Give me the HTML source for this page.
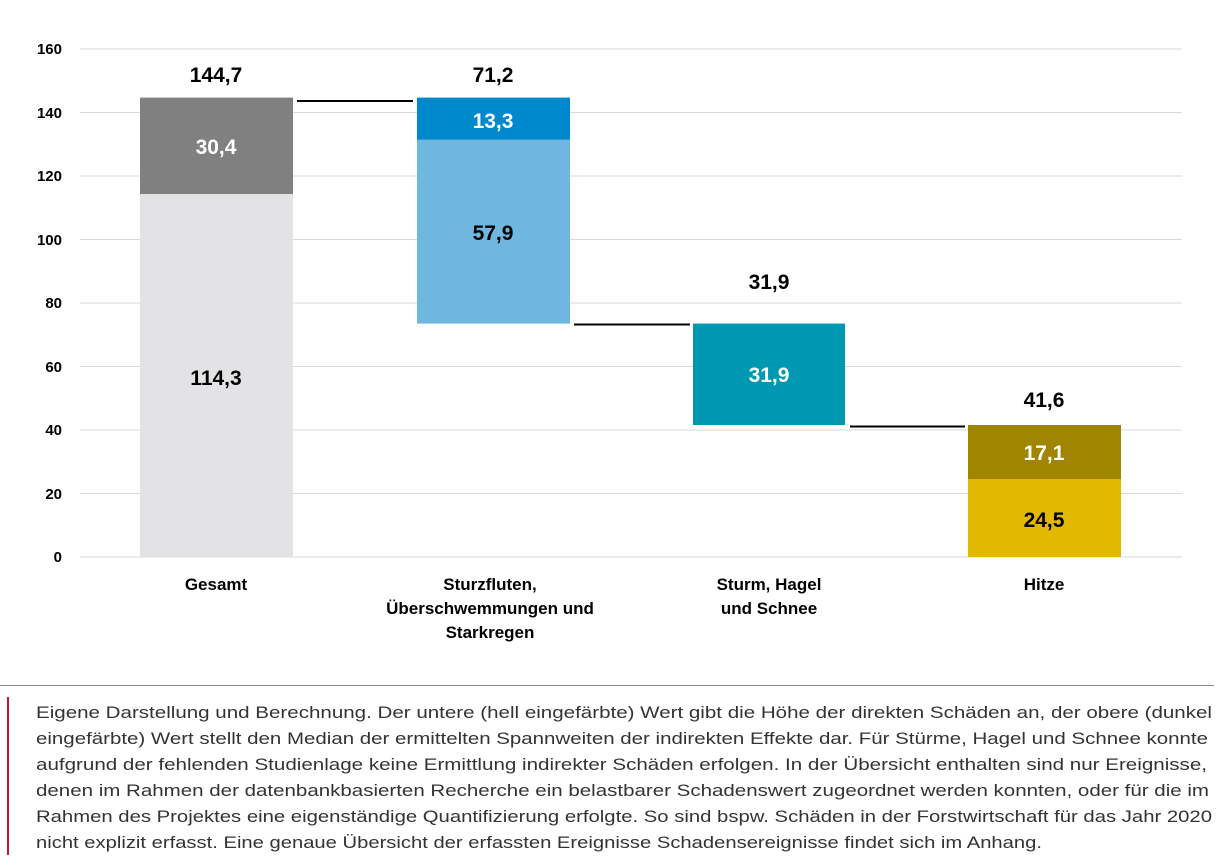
<!DOCTYPE html>
<html><head><meta charset="utf-8"><style>
body{margin:0;background:#fff;width:1222px;height:859px;overflow:hidden;font-family:"Liberation Sans",sans-serif;}
</style></head><body>
<svg width="1222" height="859" style="position:absolute;left:0;top:0" font-family="Liberation Sans, sans-serif">
<g stroke="#d9d9d9" stroke-width="1">
<line x1="80" x2="1182" y1="49" y2="49"/><line x1="80" x2="1182" y1="112.5" y2="112.5"/>
<line x1="80" x2="1182" y1="176" y2="176"/><line x1="80" x2="1182" y1="239.5" y2="239.5"/>
<line x1="80" x2="1182" y1="303" y2="303"/><line x1="80" x2="1182" y1="366.5" y2="366.5"/>
<line x1="80" x2="1182" y1="430" y2="430"/><line x1="80" x2="1182" y1="493.5" y2="493.5"/>
<line x1="80" x2="1182" y1="557" y2="557"/></g>
<g font-size="15" font-weight="bold" fill="#000" text-anchor="end">
<text x="62" y="54">160</text><text x="62" y="118">140</text><text x="62" y="181">120</text>
<text x="62" y="245">100</text><text x="62" y="308">80</text><text x="62" y="372">60</text>
<text x="62" y="435">40</text><text x="62" y="499">20</text><text x="62" y="562">0</text></g>
<rect x="140" y="194" width="153" height="363" fill="#e3e3e5"/>
<rect x="140" y="97.6" width="153" height="96.4" fill="#808080"/>
<rect x="417" y="139.8" width="153" height="183.8" fill="#6fb6e0"/>
<rect x="417" y="97.6" width="153" height="42.2" fill="#0088cc"/>
<rect x="693" y="323.6" width="152" height="101.4" fill="#0097b2"/>
<rect x="968" y="479.2" width="153" height="77.8" fill="#e3b800"/>
<rect x="968" y="425" width="153" height="54.2" fill="#a08600"/>
<g stroke="#000" stroke-width="2">
<line x1="297" x2="413" y1="101" y2="101"/><line x1="574" x2="690" y1="324.5" y2="324.5"/><line x1="850" x2="965" y1="426.5" y2="426.5"/></g>
<g font-size="21" font-weight="bold" text-anchor="middle">
<text x="216" y="82">144,7</text><text x="493" y="82">71,2</text><text x="769" y="289">31,9</text><text x="1044" y="407">41,6</text>
<text x="216" y="154" fill="#fff">30,4</text><text x="216" y="385">114,3</text>
<text x="493" y="128" fill="#fff">13,3</text><text x="493" y="240">57,9</text>
<text x="769" y="382" fill="#fff">31,9</text>
<text x="1044" y="460" fill="#fff">17,1</text><text x="1044" y="527">24,5</text></g>
<g font-size="17" font-weight="bold" text-anchor="middle">
<text x="216" y="590">Gesamt</text>
<text x="490" y="590">Sturzfluten,</text><text x="490" y="614">Überschwemmungen und</text><text x="490" y="638">Starkregen</text>
<text x="769" y="590">Sturm, Hagel</text><text x="769" y="614">und Schnee</text>
<text x="1044" y="590">Hitze</text></g>
<line x1="0" x2="1214" y1="685.5" y2="685.5" stroke="#888" stroke-width="1"/>
<rect x="7" y="697" width="2" height="158" fill="#d0102c"/>
<g font-size="17" fill="#333" lengthAdjust="spacingAndGlyphs">
<text x="36" y="718" textLength="1176" lengthAdjust="spacingAndGlyphs">Eigene Darstellung und Berechnung. Der untere (hell eingefärbte) Wert gibt die Höhe der direkten Schäden an, der obere (dunkel</text>
<text x="36" y="744" textLength="1172" lengthAdjust="spacingAndGlyphs">eingefärbte) Wert stellt den Median der ermittelten Spannweiten der indirekten Effekte dar. Für Stürme, Hagel und Schnee konnte</text>
<text x="36" y="770" textLength="1171" lengthAdjust="spacingAndGlyphs">aufgrund der fehlenden Studienlage keine Ermittlung indirekter Schäden erfolgen. In der Übersicht enthalten sind nur Ereignisse,</text>
<text x="36" y="796" textLength="1173" lengthAdjust="spacingAndGlyphs">denen im Rahmen der datenbankbasierten Recherche ein belastbarer Schadenswert zugeordnet werden konnten, oder für die im</text>
<text x="36" y="822" textLength="1176" lengthAdjust="spacingAndGlyphs">Rahmen des Projektes eine eigenständige Quantifizierung erfolgte. So sind bspw. Schäden in der Forstwirtschaft für das Jahr 2020</text>
<text x="36" y="848" textLength="1006" lengthAdjust="spacingAndGlyphs">nicht explizit erfasst. Eine genaue Übersicht der erfassten Ereignisse Schadensereignisse findet sich im Anhang.</text>
</g>
</svg>
</body></html>
